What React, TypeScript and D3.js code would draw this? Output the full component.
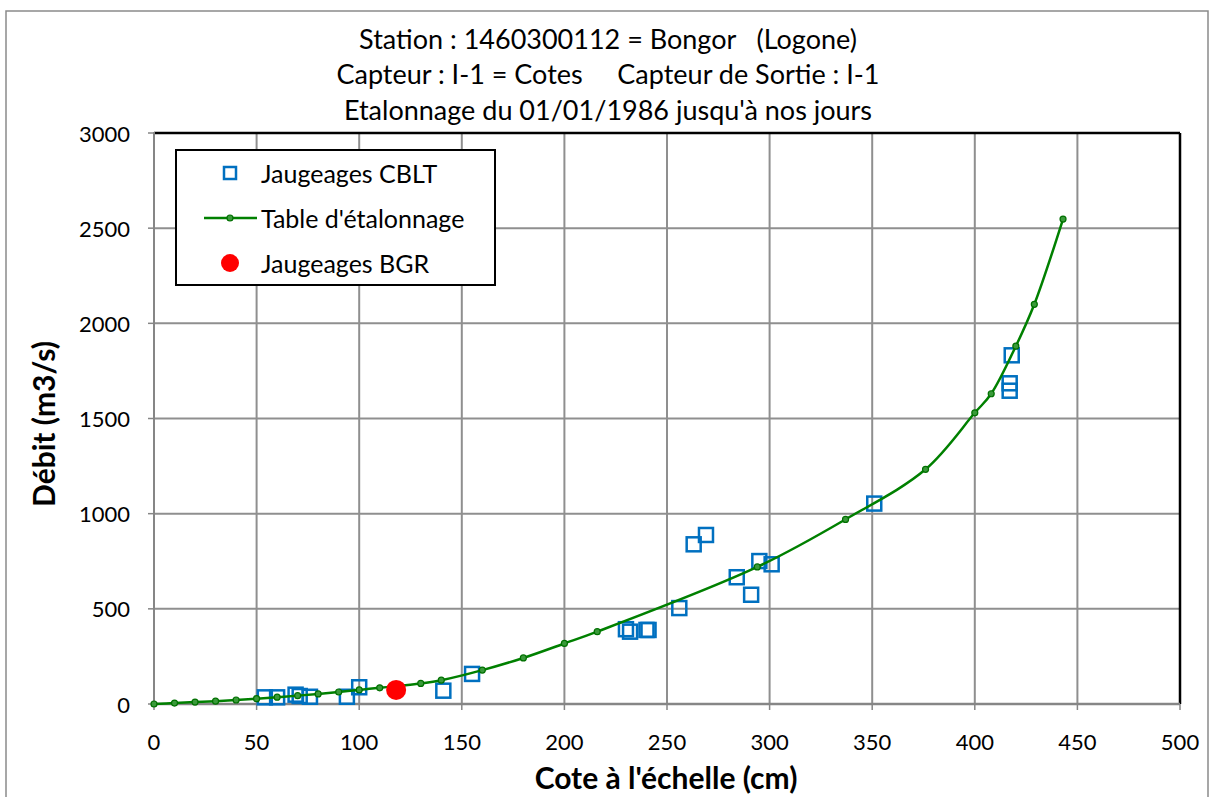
import React from "react";
import * as d3 from "d3";

const titleLines = [
  "Station : 1460300112 = Bongor   (Logone)",
  "Capteur : I-1 = Cotes     Capteur de Sortie : I-1",
  "Etalonnage du 01/01/1986 jusqu'à nos jours",
];
const xTicks = [0, 50, 100, 150, 200, 250, 300, 350, 400, 450, 500];
const yTicks = [0, 500, 1000, 1500, 2000, 2500, 3000];

// Table d'étalonnage
const tableCote = [0, 10, 20, 30, 40, 50, 60, 70, 80, 90, 100, 110, 120, 130, 140, 160, 180, 200, 216, 294, 337, 376, 400, 408, 420, 429, 443];
const tableDebit = [0, 5, 10, 15, 21, 28, 36, 44, 53, 63, 74, 85, 96, 108, 125, 178, 242, 318, 380, 720, 970, 1233, 1530, 1630, 1880, 2100, 2548];

// Jaugeages CBLT
const cbltCote = [54, 60, 69, 71, 76, 94, 100, 141, 155, 230, 232, 240, 241, 256, 263, 269, 284, 291, 295, 301, 351, 418, 417, 417];
const cbltDebit = [35, 35, 49, 42, 38, 38, 88, 70, 158, 393, 380, 389, 389, 504, 839, 888, 666, 574, 751, 734, 1053, 1832, 1685, 1646];

// Jaugeages BGR
const bgrCote = [118];
const bgrDebit = [74];

const legendLabels = ["Jaugeages CBLT", "Table d'étalonnage", "Jaugeages BGR"];

const FONT = "Lato, 'Open Sans', sans-serif";

export default function App() {
  const x = d3.scaleLinear().domain([0, 500]).range([154, 1180]);
  const y = d3.scaleLinear().domain([0, 3000]).range([704, 133]);

  const tablePts: [number, number][] = tableCote.map((c, i) => [c, tableDebit[i]]);
  const line = d3
    .line<[number, number]>()
    .x((d) => x(d[0]))
    .y((d) => y(d[1]))
    .curve(d3.curveCatmullRom.alpha(0.5));

  const gridColor = "#8f8f8f";
  const blue = "#0070C0";
  const green = "#008000";
  const sq = 14;

  return (
    <svg
      width={1212}
      height={797}
      style={{ position: "absolute", left: 0, top: 0, background: "#fff" }}
      fontFamily={FONT}
    >
      <rect x={0} y={0} width={1212} height={797} fill="#fff" />
      {/* outer frame */}
      <rect x={6} y={11} width={1202} height={800} fill="none" stroke="#8a8a8a" strokeWidth={1.5} />

      {/* title */}
      {titleLines.map((t, i) => (
        <text
          key={i}
          x={608}
          y={38 + i * 35.5}
          textAnchor="middle"
          dominantBaseline="central"
          fontSize={27}
          fill="#000"
          style={{ whiteSpace: "pre" }}
        >
          {t}
        </text>
      ))}

      {/* grid */}
      {xTicks.filter((t) => t > 0 && t < 500).map((t) => (
        <line key={"gx" + t} x1={x(t)} x2={x(t)} y1={y(3000)} y2={y(0)} stroke={gridColor} strokeWidth={2} />
      ))}
      {yTicks.filter((t) => t > 0 && t < 3000).map((t) => (
        <line key={"gy" + t} x1={x(0)} x2={x(500)} y1={y(t)} y2={y(t)} stroke={gridColor} strokeWidth={2} />
      ))}

      {/* plot border top/right */}
      <line x1={x(0)} x2={x(500)} y1={y(3000)} y2={y(3000)} stroke="#000" strokeWidth={2.5} />
      <line x1={x(500)} x2={x(500)} y1={y(3000)} y2={y(0)} stroke="#000" strokeWidth={2.5} />

      {/* axes */}
      <line x1={x(0)} x2={x(0)} y1={y(3000) - 1} y2={y(0)} stroke="#868686" strokeWidth={2} />
      <line x1={x(0)} x2={x(500)} y1={y(0)} y2={y(0)} stroke="#868686" strokeWidth={2.5} />
      {yTicks.map((t) => (
        <g key={"yt" + t}>
          <line x1={x(0) - 6} x2={x(0)} y1={y(t)} y2={y(t)} stroke="#868686" strokeWidth={1.5} />
          <text x={130} y={y(t)} textAnchor="end" dominantBaseline="central" fontSize={22} fill="#000">
            {t}
          </text>
        </g>
      ))}
      {xTicks.map((t) => (
        <g key={"xt" + t}>
          <line x1={x(t)} x2={x(t)} y1={y(0)} y2={y(0) + 6} stroke="#868686" strokeWidth={1.5} />
          <text x={x(t)} y={741} textAnchor="middle" dominantBaseline="central" fontSize={22} fill="#000">
            {t}
          </text>
        </g>
      ))}

      {/* axis titles */}
      <text x={666} y={777} textAnchor="middle" dominantBaseline="central" fontSize={30} fontWeight="bold" fill="#000">
        Cote à l'échelle (cm)
      </text>
      <text
        transform={`translate(43,424) rotate(-90)`}
        textAnchor="middle"
        dominantBaseline="central"
        fontSize={30}
        fontWeight="bold"
        fill="#000"
      >
        Débit (m3/s)
      </text>

      {/* CBLT squares */}
      {cbltCote.map((c, i) => (
        <rect
          key={"s" + i}
          x={x(c) - sq / 2}
          y={y(cbltDebit[i]) - sq / 2}
          width={sq}
          height={sq}
          fill="none"
          stroke={blue}
          strokeWidth={2.5}
        />
      ))}

      {/* table line */}
      <path d={line(tablePts) || ""} fill="none" stroke={green} strokeWidth={2.5} />
      {tablePts.map((d, i) => (
        <circle key={"c" + i} cx={x(d[0])} cy={y(d[1])} r={3} fill="#3a9a3a" stroke="#007000" strokeWidth={1.2} />
      ))}

      {/* BGR */}
      {bgrCote.map((c, i) => (
        <circle key={"r" + i} cx={x(c)} cy={y(bgrDebit[i])} r={10} fill="#ff0000" />
      ))}

      {/* legend */}
      <rect x={176} y={150} width={319} height={135} fill="#fff" stroke="#000" strokeWidth={2} />
      <rect x={230 - 6} y={173 - 6} width={12} height={12} fill="none" stroke={blue} strokeWidth={2.5} />
      <line x1={204} x2={257} y1={218} y2={218} stroke={green} strokeWidth={2.5} />
      <circle cx={230} cy={218} r={3} fill="#3a9a3a" stroke="#007000" strokeWidth={1.2} />
      <circle cx={230} cy={263} r={9} fill="#ff0000" />
      {legendLabels.map((l, i) => (
        <text key={"l" + i} x={261} y={173 + i * 45} dominantBaseline="central" fontSize={25} fill="#000">
          {l}
        </text>
      ))}
    </svg>
  );
}
